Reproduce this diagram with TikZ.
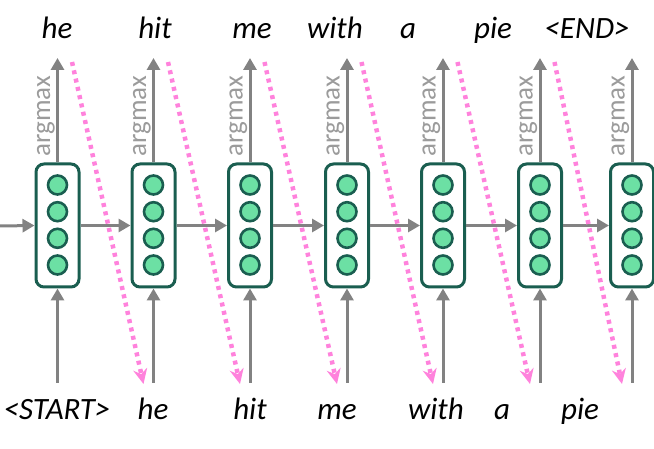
\documentclass[tikz,border=0pt]{standalone}
\usepackage{fontspec}
\setmainfont{Carlito}
\usetikzlibrary{arrows.meta}
\definecolor{cellEdge}{RGB}{26, 94, 80}
\definecolor{cellFill}{RGB}{108, 224, 164}
\definecolor{flowGray}{RGB}{130, 130, 130}
\definecolor{tagGray}{RGB}{155, 155, 155}
\definecolor{feedPink}{RGB}{255, 130, 220}

\begin{document}
\begin{tikzpicture}[x=1pt, y=-1pt, >={Triangle[length=12pt, width=13pt]},
  cell/.style={draw=cellEdge, line width=3pt, rounded corners=8pt,
    minimum width=43pt, minimum height=123pt, inner sep=0pt},
  unit/.style={circle, draw=cellEdge, fill=cellFill, line width=2.6pt,
    minimum size=19pt, inner sep=0pt},
  flow/.style={->, flowGray, line width=3pt},
  feed/.style={-{Stealth[length=15pt, width=14pt]}, feedPink, line width=4.5pt,
    dash pattern=on 4pt off 4.5pt},
  word/.style={font=\fontsize{31}{36}\selectfont\itshape, anchor=base},
  tag/.style={font=\fontsize{27}{32}\selectfont, text=tagGray, rotate=90, anchor=base}]
  \useasboundingbox (0,0) rectangle (654,449);

  % Decoder cells with hidden units, argmax outputs and inputs
  \foreach \x [count=\i] in {57.5, 153.5, 250, 347, 443, 540, 632} {
    \node[cell] (c\i) at (\x, 225.5) {};
    \foreach \k/\yy in {1/185, 2/211.7, 3/238.3, 4/265}
      \node[unit] (u\i\k) at (\x, \yy) {};
    \coordinate (top\i) at (\x, 58);
    \coordinate (bot\i) at (\x, 383);
    \draw[flow] (c\i.north) -- (top\i);
    \draw[flow] (bot\i) -- (c\i.south);
    \node[tag] (am\i) at (\x-7.5, 116) {argmax};
  }

  % Recurrent connections
  \coordinate (feedin) at (0, 226);
  \draw[flow] (feedin) -- (c1.west);
  \foreach \i [evaluate=\i as \j using int(\i+1)] in {1,...,6}
    \draw[flow] (c\i.east) -- (c\j.west);

  % Output words
  \foreach \w/\x [count=\i] in {he/57, hit/155, me/252, with/335, a/408, pie/493, {<END>}/587}
    \node[word] (out\i) at (\x, 39) {\w};

  % Input words
  \foreach \w/\x [count=\i] in {{<START>}/57, he/153, hit/250, me/337, with/436, a/502, pie/580}
    \node[word] (in\i) at (\x, 420) {\w};

  % Each prediction fed to the next step
  \foreach \x/\nx [count=\i] in {57.5/153.5, 153.5/250, 250/347, 347/443, 443/540, 540/632} {
    \coordinate (pa\i) at (\x+14.5, 62);
    \coordinate (pb\i) at (\nx-10, 384);
    \draw[feed] (pa\i) -- (pb\i);
  }
\end{tikzpicture}
\end{document}
